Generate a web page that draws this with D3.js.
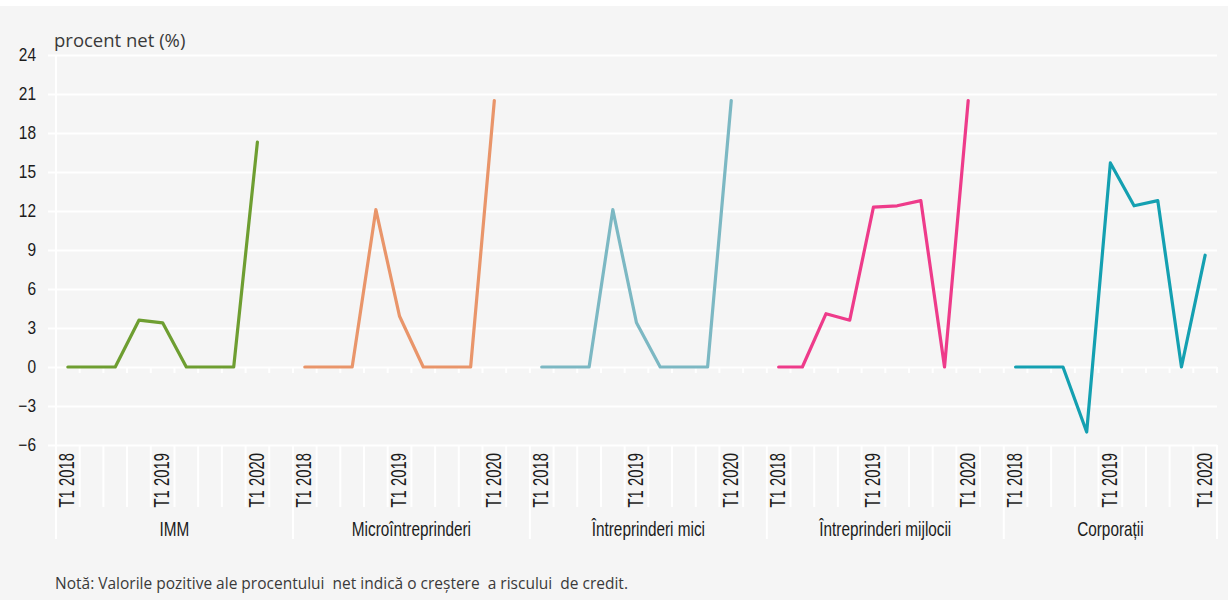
<!DOCTYPE html>
<html>
<head>
<meta charset="utf-8">
<script src="https://cdn.jsdelivr.net/npm/d3@7"></script>
<style>
  html, body { margin: 0; padding: 0; background: #ffffff; }
  svg { display: block; }
  .cond { font-family: "Liberation Sans", Arial, sans-serif; }
  .reg { font-family: "Open Sans", "Noto Sans", sans-serif; white-space: pre; }
</style>
</head>
<body>
<svg id="chart" width="1228" height="600"></svg>
<script>
// Segments of the survey and the quarters reported for each
const groups = ["IMM", "Microîntreprinderi", "Întreprinderi mici", "Întreprinderi mijlocii", "Corporații"];
const quarters = ["T1 2018", "T2 2018", "T3 2018", "T4 2018", "T1 2019", "T2 2019", "T3 2019", "T4 2019", "T1 2020"];
const quarterLabels = ["T1 2018", "", "", "", "T1 2019", "", "", "", "T1 2020"];

// Net percentage per segment (one value per quarter)
const imm = [0, 0, 0, 3.6, 3.4, 0, 0, 0, 17.3];
const micro = [0, 0, 0, 12.1, 3.9, 0, 0, 0, 20.5];
const mici = [0, 0, 0, 12.1, 3.4, 0, 0, 0, 20.5];
const mijlocii = [0, 0, 4.1, 3.6, 12.3, 12.4, 12.8, 0, 20.5];
const corporatii = [0, 0, 0, -5.0, 15.7, 12.4, 12.8, 0, 8.6];

const seriesValues = [imm, micro, mici, mijlocii, corporatii];
const seriesColors = ["#6e9e31", "#e9956a", "#7cb8c3", "#ee3b8a", "#14a0b1"];

const yTicks = [-6, -3, 0, 3, 6, 9, 12, 15, 18, 21, 24];

const W = 1228, H = 600;
const plotLeft = 56, plotRight = 1217, plotTop = 55, plotBottom = 445;
const textColor = "#1c1c1c";

const svg = d3.select("#chart");

// Background panel
svg.append("rect").attr("x", 0).attr("y", 6).attr("width", W).attr("height", H - 6).attr("fill", "#f5f5f5");

// Category slots: each segment gets its quarters plus one empty spacer (except the last)
const slots = [];
groups.forEach((g, gi) => {
  quarters.forEach((q, qi) => slots.push({ key: g + "|" + q, group: gi, q: qi, label: quarterLabels[qi] }));
  if (gi < groups.length - 1) slots.push({ key: g + "|gap", group: gi, q: -1, label: "" });
});

const x = d3.scaleBand().domain(slots.map(s => s.key)).range([plotLeft, plotRight]).padding(0);
const bw = x.bandwidth();
const cx = k => x(k) + bw / 2;

const y = d3.scaleLinear().domain([-6, 24]).range([plotBottom, plotTop]);

// Horizontal gridlines with short ticks left of the axis
const yAxis = d3.axisLeft(y).tickValues(yTicks).tickSize(0).tickFormat(d3.format("d"));
const yg = svg.append("g").attr("transform", `translate(${plotLeft - 8},0)`).call(yAxis);
yg.select(".domain").remove();
yg.selectAll(".tick line")
  .attr("x1", 0).attr("x2", plotRight - plotLeft + 8)
  .attr("stroke", "#ffffff").attr("stroke-width", 2);
yg.selectAll(".tick text")
  .attr("class", "cond")
  .attr("x", 0)
  .attr("transform", `translate(${36 - (plotLeft - 8)},0) scale(0.86,1)`)
  .attr("text-anchor", "end")
  .attr("font-size", 18)
  .attr("fill", textColor)
  .attr("dy", "0.3em");

// Vertical axis line
svg.append("line").attr("x1", plotLeft).attr("x2", plotLeft).attr("y1", plotTop).attr("y2", 539)
  .attr("stroke", "#ffffff").attr("stroke-width", 2);

// Category ticks along the zero line
const boundaries = slots.map(s => x(s.key)).concat([plotRight]);
svg.append("g").selectAll("line").data(boundaries.slice(1)).join("line")
  .attr("x1", d => d).attr("x2", d => d)
  .attr("y1", y(0)).attr("y2", y(0) + 6)
  .attr("stroke", "#ffffff").attr("stroke-width", 2);

// Separators in the label area
const groupStarts = groups.map((g, gi) => x(slots.find(s => s.group === gi).key));
const groupEnds = groupStarts.slice(1).concat([plotRight]);
svg.append("g").selectAll("line").data(boundaries.slice(1)).join("line")
  .attr("x1", d => d).attr("x2", d => d)
  .attr("y1", plotBottom).attr("y2", d => groupEnds.some(e => Math.abs(e - d) < 0.5) ? 539 : 507)
  .attr("stroke", "#ffffff").attr("stroke-width", 2);

// Quarter labels, rotated
svg.append("g").selectAll("text").data(slots.filter(s => s.label)).join("text")
  .attr("class", "cond")
  .attr("transform", s => `translate(${cx(s.key) - 1},453) rotate(-90) scale(0.69,1)`)
  .attr("text-anchor", "end")
  .attr("dy", "0.35em")
  .attr("font-size", 21.5)
  .attr("fill", textColor)
  .text(s => s.label);

// Segment labels
svg.append("g").selectAll("text").data(groups).join("text")
  .attr("class", "cond")
  .attr("transform", (g, i) => `translate(${(groupStarts[i] + groupEnds[i]) / 2},536) scale(0.73,1)`)
  .attr("text-anchor", "middle")
  .attr("font-size", 21)
  .attr("fill", textColor)
  .text(g => g);

// Series lines
const line = d3.line().x(d => cx(d.key)).y(d => y(d.v));
groups.forEach((g, gi) => {
  const pts = quarters.map((q, qi) => ({ key: g + "|" + q, v: seriesValues[gi][qi] }));
  svg.append("path").datum(pts)
    .attr("d", line)
    .attr("fill", "none")
    .attr("stroke", seriesColors[gi])
    .attr("stroke-width", 3.2)
    .attr("stroke-linejoin", "round")
    .attr("stroke-linecap", "round");
});

// Axis title
svg.append("text").attr("class", "reg")
  .attr("x", 54).attr("y", 47)
  .attr("font-size", 18.5)
  .attr("fill", "#3a3a3a")
  .text("procent net (%)");

// Footnote
svg.append("text").attr("class", "reg")
  .attr("x", 55).attr("y", 589)
  .attr("font-size", 15.5)
  .attr("fill", "#3a3a3a")
  .text("Notă: Valorile pozitive ale procentului  net indică o creștere  a riscului  de credit.");
</script>
</body>
</html>
